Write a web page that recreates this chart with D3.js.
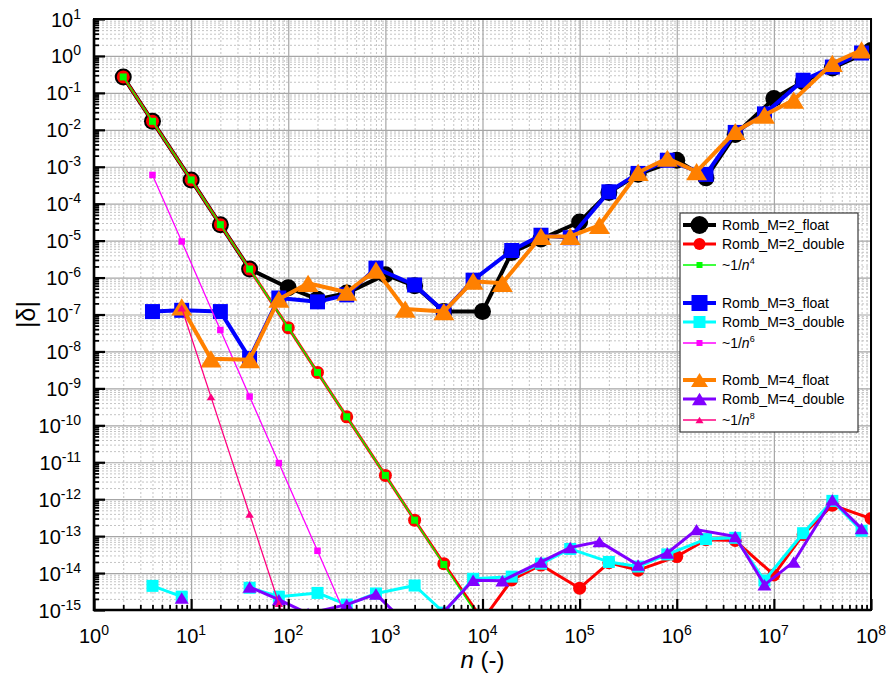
<!DOCTYPE html>
<html><head><meta charset="utf-8">
<script src="https://cdn.jsdelivr.net/npm/d3@7"></script>
<style>body{margin:0;background:#fff} svg{display:block;font-family:"Liberation Sans",Arial,sans-serif}</style>
</head><body><svg id="c" width="889" height="679"></svg>
<script>
// ---------- data ----------
const nM2 = [2,4,10,20,40,100,200,400,1000,2000,4000,1e4,2e4,4e4,1e5,2e5,4e5,1e6,2e6,4e6,1e7,2e7,4e7,1e8];
const nM3 = [4,8,20,40,80,200,400,800,2000,4000,8000,2e4,4e4,8e4,2e5,4e5,8e5,2e6,4e6,8e6,2e7,4e7,8e7];
const nM4 = [8,16,40,80,160,400,800,1600,4000,8000,16000,4e4,8e4,1.6e5,4e5,8e5,1.6e6,4e6,8e6,1.6e7,4e7,8e7];
const nP4 = [2,4,10,20,40,100,200,400,1000,2000,4000,1e4];
const nP6 = [4,8,20,40,80,200,400];
const nP8 = [8,16,40,80,160];

const m2Float  = [0.27,0.017,4.4e-4,2.7e-5,1.7e-6,5.3e-7,2.6e-7,3.8e-7,1.2e-6,6e-7,1.2e-7,1.2e-7,4.8e-6,1.1e-5,3.2e-5,2e-4,6.3e-4,1.5e-3,5e-4,7.5e-3,0.07,0.2,0.47,1.4];
const m2Double = [0.27,0.017,4.4e-4,2.7e-5,1.7e-6,4.4e-8,2.7e-9,1.7e-10,4.4e-12,2.7e-13,1.8e-14,5.3e-16,6.5e-15,1.65e-14,3.9e-15,1.9e-14,1.2e-14,2.8e-14,8e-14,7.6e-14,8.9e-15,1.1e-13,6.9e-13,3e-13];
const p4Vals   = [0.27,0.017,4.4e-4,2.7e-5,1.7e-6,4.4e-8,2.7e-9,1.7e-10,4.4e-12,2.7e-13,1.7e-14,4.4e-16];
const m3Float  = [1.2e-7,1.3e-7,1.2e-7,6.5e-9,2.8e-7,2.2e-7,3.4e-7,1.8e-6,6.3e-7,1.2e-7,8.5e-7,5.4e-6,1.4e-5,1.2e-5,2.1e-4,6.6e-4,1.5e-3,6.2e-4,8.5e-3,0.027,0.22,0.5,1.2];
const m3Double = [4.5e-15,2.3e-15,null,4e-15,2.3e-15,2.9e-15,1.4e-15,2.8e-15,4.6e-15,8.5e-16,7e-15,8e-15,1.8e-14,4.5e-14,2e-14,1.5e-14,3.2e-14,8.3e-14,9e-14,6.3e-15,1.2e-13,9e-13,1.4e-13];
const p6Vals   = [6e-4,9.5e-6,3.8e-8,6e-10,9.5e-12,4e-14,6e-16];
const m4Float  = [1.6e-7,6.3e-9,6e-9,2.6e-7,7e-7,4e-7,1.6e-6,1.4e-7,1.2e-7,8e-7,7e-7,1.3e-5,1.3e-5,2.6e-5,7e-4,1.7e-3,7.4e-4,9e-3,0.025,0.064,0.63,1.45];
const m4Double = [2.1e-15,null,4.2e-15,1.9e-15,8e-16,1.4e-15,2.7e-15,4.5e-16,9e-16,6.4e-15,6.2e-15,2e-14,4.9e-14,7.1e-14,1.65e-14,3.5e-14,1.5e-13,9.8e-14,4.8e-15,2e-14,9.6e-13,1.6e-13];
const p8Vals   = [1.5e-7,5.9e-10,3.9e-13,1.5e-15,6e-18];

const xTickExps = [0,1,2,3,4,5,6,7,8];
const yTickExps = [1,0,-1,-2,-3,-4,-5,-6,-7,-8,-9,-10,-11,-12,-13,-14,-15];

// ---------- setup ----------
const svg = d3.select("#c");
const L=94, R=871, T=19, B=610;
const x = d3.scaleLog().domain([1,1e8]).range([L,R]);
const y = d3.scaleLog().domain([1e-15,10]).range([B,T]);

const majX = xTickExps.map(e=>Math.pow(10,e));
const majY = yTickExps.map(e=>Math.pow(10,e));
const minX=[], minY=[];
for(let k=0;k<8;k++) for(let d=2;d<=9;d++) minX.push(d*Math.pow(10,k));
for(let k=-15;k<1;k++) for(let d=2;d<=9;d++) minY.push(d*Math.pow(10,k));

// grid
function grid(axisGen, tr, vals, cls){
  const g = svg.append("g").attr("transform",tr).call(axisGen.tickValues(vals).tickFormat(""));
  g.select(".domain").remove();
  return g;
}
const gmx = grid(d3.axisBottom(x).tickSizeInner(-(B-T)).tickSizeOuter(0), `translate(0,${B})`, minX);
gmx.selectAll("line").attr("stroke","#c4c4c4").attr("stroke-dasharray","2,2");
const gmy = grid(d3.axisLeft(y).tickSizeInner(-(R-L)).tickSizeOuter(0), `translate(${L},0)`, minY);
gmy.selectAll("line").attr("stroke","#c4c4c4").attr("stroke-dasharray","2,2");
const gMx = grid(d3.axisBottom(x).tickSizeInner(-(B-T)).tickSizeOuter(0), `translate(0,${B})`, majX);
gMx.selectAll("line").attr("stroke","#a6a6a6").attr("stroke-width",1.2);
const gMy = grid(d3.axisLeft(y).tickSizeInner(-(R-L)).tickSizeOuter(0), `translate(${L},0)`, majY);
gMy.selectAll("line").attr("stroke","#a6a6a6").attr("stroke-width",1.2);

// clip
svg.append("clipPath").attr("id","clip").append("rect").attr("x",L).attr("y",T).attr("width",R-L).attr("height",B-T);
const plot = svg.append("g").attr("clip-path","url(#clip)");

function shape(sel, type, s){
  if(type==="circle") return sel.append("circle").attr("r",s/2);
  if(type==="square") return sel.append("rect").attr("x",-s/2).attr("y",-s/2).attr("width",s).attr("height",s);
  const w=s, h=s*0.82;
  return sel.append("path").attr("d",`M0,${-h/2}L${w/2},${h/2}L${-w/2},${h/2}Z`);
}

const series = [
  {name:"Romb_M=2_float",  n:nM2, v:m2Float,  color:"#000000", lw:4,   mk:"circle", ms:17, lms:18},
  {name:"Romb_M=2_double", n:nM2, v:m2Double, color:"#ff0000", lw:3,   mk:"circle", ms:13, lms:12},
  {name:"p4",              n:nP4, v:p4Vals,   color:"#00ff00", lw:1.3, mk:"square", ms:7,  lms:6, exp:"4"},
  {name:"Romb_M=3_float",  n:nM3, v:m3Float,  color:"#0000ff", lw:4,   mk:"square", ms:15, lms:16},
  {name:"Romb_M=3_double", n:nM3, v:m3Double, color:"#00ffff", lw:3,   mk:"square", ms:12, lms:12},
  {name:"p6",              n:nP6, v:p6Vals,   color:"#ff00ff", lw:1.3, mk:"square", ms:6.5,lms:6, exp:"6"},
  {name:"Romb_M=4_float",  n:nM4, v:m4Float,  color:"#ff8000", lw:4,   mk:"tri",    ms:21, lms:17},
  {name:"Romb_M=4_double", n:nM4, v:m4Double, color:"#8000ff", lw:3,   mk:"tri",    ms:14, lms:15},
  {name:"p8",              n:nP8, v:p8Vals,   color:"#ff0080", lw:1.3, mk:"tri",    ms:8.5,lms:8, exp:"8"}
];

const line = d3.line().defined(d=>d.v!=null).x(d=>x(d.n)).y(d=>y(d.v));
series.forEach(s=>{
  const pts = s.n.map((n,i)=>({n, v:s.v[i]}));
  plot.append("path").datum(pts).attr("d",line).attr("fill","none")
    .attr("stroke",s.color).attr("stroke-width",s.lw).attr("stroke-linejoin","round");
  pts.filter(d=>d.v!=null).forEach(d=>{
    const g = plot.append("g").attr("transform",`translate(${x(d.n)},${y(d.v)})`);
    shape(g, s.mk, s.ms).attr("fill",s.color);
  });
});

// axis ticks (inward)
function ticks(axisGen, tr, vals, len, w){
  const g = svg.append("g").attr("transform",tr)
    .call(axisGen.tickValues(vals).tickSizeInner(-len).tickSizeOuter(0).tickFormat(""));
  g.select(".domain").remove();
  g.selectAll("line").attr("stroke","#000").attr("stroke-width",w);
}
ticks(d3.axisBottom(x), `translate(0,${B})`, minX, 5, 1.8);
ticks(d3.axisBottom(x), `translate(0,${B})`, majX, 11, 2.2);
ticks(d3.axisLeft(y), `translate(${L},0)`, minY, 5, 1.8);
ticks(d3.axisLeft(y), `translate(${L},0)`, majY, 11, 2.2);

// frame
svg.append("rect").attr("x",L).attr("y",T).attr("width",R-L).attr("height",B-T)
  .attr("fill","none").attr("stroke","#000").attr("stroke-width",2);
svg.append("line").attr("x1",L).attr("x2",L).attr("y1",T).attr("y2",B+1).attr("stroke","#000").attr("stroke-width",2.6);
svg.append("line").attr("x1",L-1).attr("x2",R).attr("y1",B).attr("y2",B).attr("stroke","#000").attr("stroke-width",2.6);

// tick labels
xTickExps.forEach(e=>{
  const t = svg.append("text").attr("x",x(Math.pow(10,e))).attr("y",643).attr("text-anchor","middle").attr("fill","#000");
  t.append("tspan").attr("font-size",20).text("10");
  t.append("tspan").attr("font-size",14).attr("dy",-8).text(String(e));
});
yTickExps.forEach(e=>{
  const t = svg.append("text").attr("x",81).attr("y",y(Math.pow(10,e))+7.5).attr("text-anchor","end").attr("fill","#000");
  t.append("tspan").attr("font-size",20).text("10");
  t.append("tspan").attr("font-size",14).attr("dy",-8).text(e<0?"-"+(-e):String(e));
});

// axis titles
svg.append("text").attr("transform",`translate(35,${(T+B)/2}) rotate(-90)`).attr("text-anchor","middle")
  .attr("font-size",25).text("|δ|");
const xt = svg.append("text").attr("x",(L+R)/2).attr("y",668).attr("text-anchor","middle").attr("font-size",24);
xt.append("tspan").attr("font-style","italic").text("n");
xt.append("tspan").text(" (-)");

// legend
const lg = svg.append("g");
lg.append("rect").attr("x",680).attr("y",213).attr("width",178).attr("height",219)
  .attr("fill","#fff").attr("stroke","#3a3a3a").attr("stroke-width",1.2);
const rowsY = [225,244,265,303,322,343,380,399,420];
series.forEach((s,i)=>{
  const yy = rowsY[i];
  lg.append("line").attr("x1",683).attr("x2",716).attr("y1",yy).attr("y2",yy)
    .attr("stroke",s.color).attr("stroke-width",s.lw);
  const g = lg.append("g").attr("transform",`translate(699.5,${yy})`);
  shape(g, s.mk, s.lms).attr("fill",s.color);
  const t = lg.append("text").attr("x",722).attr("y",yy+5).attr("font-size",14).attr("fill","#000");
  if(s.exp){
    t.append("tspan").text("~1/");
    t.append("tspan").attr("font-style","italic").text("n");
    t.append("tspan").attr("font-size",9).attr("dy",-6).text(s.exp);
  } else t.text(s.name);
});
</script></body></html>
